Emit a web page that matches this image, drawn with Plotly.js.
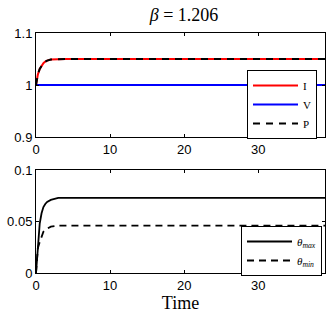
<!DOCTYPE html>
<html><head><meta charset="utf-8">
<script src="https://cdn.plot.ly/plotly-3.0.1.min.js"></script>
<style>html,body{margin:0;padding:0;background:#fff}#c{width:336px;height:318px}</style>
</head><body><div id="c"></div>
<script>
var time   = [0, 0.1, 0.25, 0.5, 0.75, 1, 1.25, 1.5, 2, 2.5, 3, 4, 5, 10, 20, 30, 39];
var I      = [1, 1.01, 1.02, 1.031, 1.038, 1.042, 1.045, 1.047, 1.049, 1.0495, 1.05, 1.05, 1.05, 1.05, 1.05, 1.05, 1.05];
var V      = [1, 1, 1, 1, 1, 1, 1, 1, 1, 1, 1, 1, 1, 1, 1, 1, 1];
var P      = [1, 1.01, 1.02, 1.031, 1.038, 1.042, 1.045, 1.047, 1.049, 1.0495, 1.05, 1.05, 1.05, 1.05, 1.05, 1.05, 1.05];
var thMax  = [0, 0.012, 0.03, 0.048, 0.058, 0.064, 0.067, 0.069, 0.071, 0.072, 0.073, 0.073, 0.073, 0.073, 0.073, 0.073, 0.073];
var thMin  = [0, 0.01, 0.024, 0.03, 0.036, 0.04, 0.042, 0.043, 0.045, 0.0455, 0.046, 0.046, 0.046, 0.046, 0.046, 0.046, 0.046];
var xTicks = [0, 10, 20, 30];
var yTopTicks = [0.9, 1, 1.1], yTopLabels = ["0.9", "1", "1.1"];
var yBotTicks = [0, 0.05, 0.1], yBotLabels = ["0", "0.05", "0.1"];

var W = 336, H = 318;
var serif = "Liberation Serif, DejaVu Serif, serif";
var sans = "Liberation Sans, Arial, sans-serif";

var traces = [
  {x: time, y: I, name: "I", mode: "lines", line: {color: "#ff0000", width: 2}, xaxis: "x", yaxis: "y", legend: "legend"},
  {x: time, y: V, name: "V", mode: "lines", line: {color: "#0000ff", width: 2}, xaxis: "x", yaxis: "y", legend: "legend"},
  {x: time, y: P, name: "P", mode: "lines", line: {color: "#000000", width: 2, dash: "7px,6px"}, xaxis: "x", yaxis: "y", legend: "legend"},
  {x: time, y: thMax, name: "<i>θ</i><sub><i>max</i></sub>", mode: "lines", line: {color: "#000000", width: 1.8}, xaxis: "x2", yaxis: "y2", legend: "legend2"},
  {x: time, y: thMin, name: "<i>θ</i><sub><i>min</i></sub>", mode: "lines", line: {color: "#000000", width: 1.8, dash: "7px,5px"}, xaxis: "x2", yaxis: "y2", legend: "legend2"}
];

function xax(anchor, domain) {
  return {domain: domain, anchor: anchor, range: [0, 39], tickvals: xTicks, ticktext: xTicks.map(String),
    ticks: "inside", ticklen: 3, tickcolor: "#000", showline: true, linecolor: "#000", linewidth: 1,
    mirror: "allticks", showgrid: false, zeroline: false, tickfont: {family: sans, size: 13, color: "#000"}};
}
function yax(anchor, domain, range, tv, tt) {
  return {domain: domain, anchor: anchor, range: range, tickvals: tv, ticktext: tt,
    ticks: "inside", ticklen: 3, tickcolor: "#000", showline: true, linecolor: "#000", linewidth: 1,
    mirror: "allticks", showgrid: false, zeroline: false, tickfont: {family: sans, size: 13, color: "#000"}};
}
var xd = [36 / W, 325 / W];
var layout = {
  width: W, height: H, margin: {l: 0, r: 0, t: 0, b: 0},
  paper_bgcolor: "#fff", plot_bgcolor: "#fff",
  title: {text: "<i>β</i> = 1.206", font: {family: serif, size: 18, color: "#000"}, x: 184 / W, xanchor: "center", y: 1 - 15 / H, yanchor: "middle"},
  xaxis: xax("y", xd),
  yaxis: yax("x", [1 - 137 / H, 1 - 33 / H], [0.9, 1.1], yTopTicks, yTopLabels),
  xaxis2: Object.assign(xax("y2", xd), {title: {text: "Time", font: {family: serif, size: 18, color: "#000"}, standoff: 3}}),
  yaxis2: yax("x2", [1 - 273 / H, 1 - 170 / H], [0, 0.1], yBotTicks, yBotLabels),
  legend: {x: 317 / W, xanchor: "right", y: 1 - 70 / H, yanchor: "top", bgcolor: "#fff", bordercolor: "#000", borderwidth: 1,
    font: {family: serif, size: 11, color: "#000"}, tracegroupgap: 0, itemwidth: 45},
  legend2: {x: 322 / W, xanchor: "right", y: 1 - 226 / H, yanchor: "top", bgcolor: "#fff", bordercolor: "#000", borderwidth: 1,
    font: {family: serif, size: 11, color: "#000"}, tracegroupgap: 0, itemwidth: 45},
  showlegend: true
};
Plotly.newPlot("c", traces, layout, {staticPlot: true, displayModeBar: false});
</script></body></html>
